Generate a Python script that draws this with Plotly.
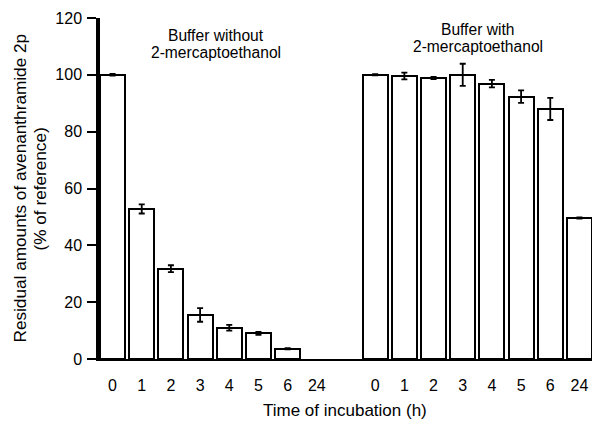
import plotly.graph_objects as go

hours = ["0", "1", "2", "3", "4", "5", "6", "24"]
without_vals = [100.0, 52.8, 31.8, 15.5, 11.0, 9.0, 3.6, 0.0]
without_err = [0.3, 1.6, 1.2, 2.4, 1.0, 0.5, 0.2, None]
with_vals = [100.0, 99.6, 98.9, 100.0, 96.9, 92.3, 88.0, 49.6]
with_err = [0.2, 1.2, 0.4, 3.9, 1.3, 2.2, 3.9, 0.2]

left_pos = list(range(len(hours)))
right_pos = [len(hours) + 1 + i for i in range(len(hours))]

FONT = "Liberation Sans, Arial, sans-serif"

fig = go.Figure()
for pos, vals, errs in [(left_pos, without_vals, without_err),
                        (right_pos, with_vals, with_err)]:
    keep = [i for i, v in enumerate(vals) if v > 0]
    fig.add_trace(go.Bar(
        x=[pos[i] for i in keep], y=[vals[i] for i in keep],
        width=0.86, showlegend=False,
        marker=dict(color="white", line=dict(color="black", width=2)),
    ))
    ek = [i for i in keep if errs[i] is not None]
    fig.add_trace(go.Scatter(
        x=[pos[i] for i in ek], y=[vals[i] for i in ek],
        mode="markers", marker=dict(size=1, opacity=0), showlegend=False,
        error_y=dict(type="data", array=[errs[i] for i in ek],
                     color="black", thickness=1.8, width=3),
    ))

fig.update_layout(
    width=592, height=423,
    margin=dict(l=100, r=0, t=18, b=64),
    plot_bgcolor="white", paper_bgcolor="white",
    font=dict(family=FONT, size=16, color="black"),
    bargap=0,
)
fig.update_xaxes(
    range=[-0.43, 16.43],
    tickvals=left_pos + right_pos,
    ticktext=hours + hours,
    ticks="", showgrid=False, zeroline=False,
    showline=True, linecolor="black", linewidth=2,
    tickfont=dict(size=16),
    ticklabelstandoff=11,
)
fig.update_yaxes(
    range=[0, 120], tickvals=[0, 20, 40, 60, 80, 100, 120],
    ticks="outside", ticklen=9, tickwidth=2, tickcolor="black",
    showgrid=False, zeroline=False,
    showline=True, linecolor="black", linewidth=3.5,
    tickfont=dict(size=16),
    ticklabelstandoff=2,
)

ytitle_lines = ["Residual amounts of avenanthramide 2p", "(% of reference)"]
for txt, xp in zip(ytitle_lines, [-0.1646, -0.122]):
    fig.add_annotation(
        text=txt, xref="paper", yref="paper", x=xp, y=0.5,
        xanchor="center", yanchor="middle", textangle=-90,
        showarrow=False, font=dict(size=17.2),
    )
fig.add_annotation(
    text="Time of incubation (h)",
    xref="paper", yref="paper", x=0.498, y=-0.1496,
    xanchor="center", yanchor="middle",
    showarrow=False, font=dict(size=17),
)

group_labels = [
    ("Buffer without", 3.545, 114.0),
    ("2-mercaptoethanol", 3.545, 108.0),
    ("Buffer with", 12.52, 115.8),
    ("2-mercaptoethanol", 12.52, 109.8),
]
for txt, xd, yd in group_labels:
    fig.add_annotation(
        text=txt, xref="x", yref="y", x=xd, y=yd,
        xanchor="center", yanchor="middle",
        showarrow=False, font=dict(size=15.6),
    )

fig.write_html("out.html")
